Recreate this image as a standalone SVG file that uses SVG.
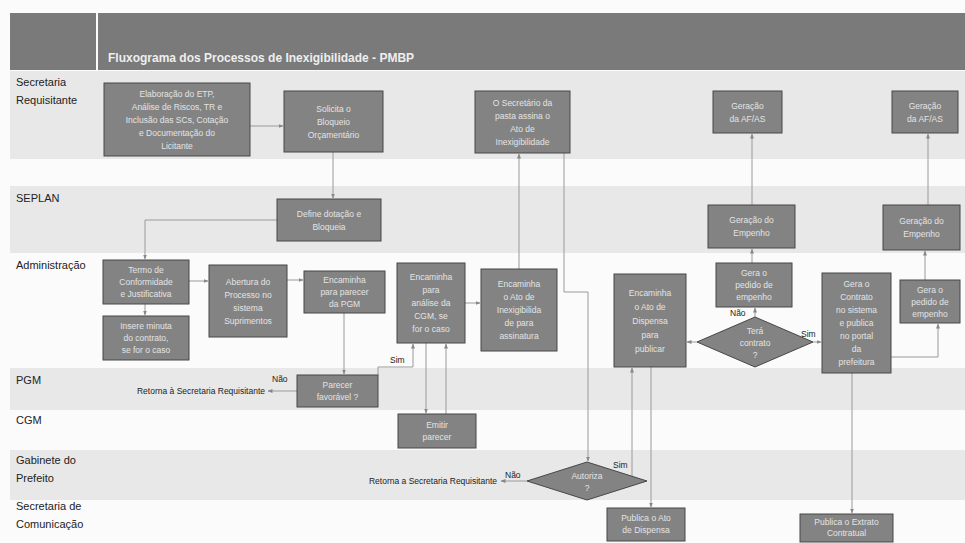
<svg xmlns="http://www.w3.org/2000/svg" width="965" height="543" viewBox="0 0 965 543">
<style>
.lane{fill:#e8e8e8}
.hdr{fill:#7a7a7a}
.lbl{font-family:"Liberation Sans",Arial,sans-serif;font-size:11px;fill:#222}
.box{fill:#838383;stroke:#474747;stroke-width:1}
.bt{font-family:"Liberation Sans",Arial,sans-serif;font-size:8.5px;fill:#e4e4e4;text-anchor:middle}
.con{fill:none;stroke:#9a9a9a;stroke-width:1;marker-end:url(#ah)}
.note{font-family:"Liberation Sans",Arial,sans-serif;font-size:8.5px;fill:#222}
</style>
<defs>
<marker id="ah" viewBox="0 0 10 10" refX="9" refY="5" markerWidth="5" markerHeight="5" orient="auto-start-reverse" markerUnits="userSpaceOnUse">
<path d="M0,1 L10,5 L0,9 z" fill="#888"/>
</marker>
</defs>
<rect x="0" y="0" width="965" height="543" fill="#fbfbfb"/>
<g id="lanes">
<rect class="lane" x="10" y="71" width="955" height="88"/>
<rect class="lane" x="10" y="186" width="955" height="67"/>
<rect class="lane" x="10" y="368" width="955" height="42"/>
<rect class="lane" x="10" y="450" width="955" height="50"/>
<rect class="hdr" x="10" y="13" width="86" height="57"/>
<rect class="hdr" x="98" y="13" width="867" height="57"/>
<text x="108" y="62" font-family="Liberation Sans,Arial,sans-serif" font-size="12" font-weight="bold" fill="#eeeeee">Fluxograma dos Processos de Inexigibilidade - PMBP</text>
<text class="lbl" x="16" y="86">Secretaria</text>
<text class="lbl" x="16" y="104">Requisitante</text>
<text class="lbl" x="16" y="202">SEPLAN</text>
<text class="lbl" x="16" y="269">Administração</text>
<text class="lbl" x="16" y="384">PGM</text>
<text class="lbl" x="16" y="424">CGM</text>
<text class="lbl" x="16" y="464">Gabinete do</text>
<text class="lbl" x="16" y="482">Prefeito</text>
<text class="lbl" x="16" y="510">Secretaria de</text>
<text class="lbl" x="16" y="528">Comunicação</text>
</g>
<g id="connectors">
<path class="con" d="M250,126 H283"/>
<path class="con" d="M333,152 V198"/>
<path class="con" d="M277,220 H145 V259"/>
<path class="con" d="M145,304 V315"/>
<path class="con" d="M189,281 H208"/>
<path class="con" d="M287,280 H303"/>
<path class="con" d="M344,313 V374"/>
<path class="con" d="M297,391 H268"/>
<path class="con" d="M378,375 V367 H413 V344"/>
<path class="con" d="M426,343 V413"/>
<path class="con" d="M446,414 V344"/>
<path class="con" d="M465,303 H480"/>
<path class="con" d="M519,269 V154"/>
<path class="con" d="M564,153 V292 H588 V461"/>
<path class="con" d="M527,481 H501"/>
<path class="con" d="M632,476 V368"/>
<path class="con" d="M651,367 V507"/>
<path class="con" d="M697,342 H687"/>
<path class="con" d="M755,317 V308"/>
<path class="con" d="M752,263 V249"/>
<path class="con" d="M752,205 V134"/>
<path class="con" d="M813,342 H821"/>
<path class="con" d="M891,357 H938 V324"/>
<path class="con" d="M925,280 V251"/>
<path class="con" d="M928,205 V134"/>
<path class="con" d="M852,373 V513"/>
<text class="note" x="272" y="382" font-size="8">Não</text>
<text class="note" x="390" y="363" font-size="8">Sim</text>
<text class="note" x="730" y="316" font-size="8">Não</text>
<text class="note" x="801" y="337" font-size="8">Sim</text>
<text class="note" x="613" y="468" font-size="8">Sim</text>
<text class="note" x="505" y="478" font-size="8">Não</text>
<text class="note" x="265" y="394" text-anchor="end">Retorna à Secretaria Requisitante</text>
<text class="note" x="497" y="484" text-anchor="end">Retorna a Secretaria Requisitante</text>
</g>
<g id="n-elab"><rect class="box" x="104" y="83" width="146" height="73"/>
<text class="bt"><tspan x="177" y="97">Elaboração do ETP,</tspan><tspan x="177" y="110">Análise de Riscos, TR e</tspan><tspan x="177" y="123">Inclusão das SCs, Cotação</tspan><tspan x="177" y="136">e Documentação do</tspan><tspan x="177" y="149">Licitante</tspan></text></g>
<g id="n-solicita"><rect class="box" x="284" y="91" width="99" height="61"/>
<text class="bt"><tspan x="333.5" y="112">Solicita o</tspan><tspan x="333.5" y="125">Bloqueio</tspan><tspan x="333.5" y="138">Orçamentário</tspan></text></g>
<g id="n-secretario"><rect class="box" x="475" y="91" width="95" height="62"/>
<text class="bt"><tspan x="522.5" y="106">O Secretário da</tspan><tspan x="522.5" y="119">pasta assina o</tspan><tspan x="522.5" y="132">Ato de</tspan><tspan x="522.5" y="145">Inexigibilidade</tspan></text></g>
<g id="n-afas1"><rect class="box" x="713" y="91" width="69" height="42"/>
<text class="bt"><tspan x="747.5" y="109">Geração</tspan><tspan x="747.5" y="122">da AF/AS</tspan></text></g>
<g id="n-afas2"><rect class="box" x="892" y="91" width="66" height="42"/>
<text class="bt"><tspan x="925" y="109">Geração</tspan><tspan x="925" y="122">da AF/AS</tspan></text></g>
<g id="n-define"><rect class="box" x="277" y="199" width="104" height="42"/>
<text class="bt"><tspan x="329" y="217">Define dotação e</tspan><tspan x="329" y="230">Bloqueia</tspan></text></g>
<g id="n-termo"><rect class="box" x="103" y="260" width="86" height="44"/>
<text class="bt"><tspan x="146" y="273">Termo de</tspan><tspan x="146" y="285">Conformidade</tspan><tspan x="146" y="297">e Justificativa</tspan></text></g>
<g id="n-insere"><rect class="box" x="103" y="316" width="86" height="44"/>
<text class="bt"><tspan x="146" y="329">Insere minuta</tspan><tspan x="146" y="341">do contrato,</tspan><tspan x="146" y="353">se for o caso</tspan></text></g>
<g id="n-abertura"><rect class="box" x="209" y="265" width="78" height="72"/>
<text class="bt"><tspan x="248" y="285">Abertura do</tspan><tspan x="248" y="298">Processo no</tspan><tspan x="248" y="311">sistema</tspan><tspan x="248" y="324">Suprimentos</tspan></text></g>
<g id="n-encpgm"><rect class="box" x="304" y="271" width="81" height="42"/>
<text class="bt"><tspan x="344.5" y="283">Encaminha</tspan><tspan x="344.5" y="295">para parecer</tspan><tspan x="344.5" y="307">da PGM</tspan></text></g>
<g id="n-enccgm"><rect class="box" x="397" y="263" width="68" height="80"/>
<text class="bt"><tspan x="431" y="280">Encaminha</tspan><tspan x="431" y="293">para</tspan><tspan x="431" y="306">análise da</tspan><tspan x="431" y="319">CGM, se</tspan><tspan x="431" y="332">for o caso</tspan></text></g>
<g id="n-encinex"><rect class="box" x="481" y="269" width="76" height="82"/>
<text class="bt"><tspan x="519" y="287">Encaminha</tspan><tspan x="519" y="300">o Ato de</tspan><tspan x="519" y="313">Inexigibilida</tspan><tspan x="519" y="326">de para</tspan><tspan x="519" y="339">assinatura</tspan></text></g>
<g id="n-dispensa"><rect class="box" x="614" y="274" width="72" height="93"/>
<text class="bt"><tspan x="650" y="296">Encaminha</tspan><tspan x="650" y="310">o Ato de</tspan><tspan x="650" y="324">Dispensa</tspan><tspan x="650" y="338">para</tspan><tspan x="650" y="352">publicar</tspan></text></g>
<g id="n-pedido1"><rect class="box" x="716" y="263" width="76" height="44"/>
<text class="bt"><tspan x="754" y="276">Gera o</tspan><tspan x="754" y="288">pedido de</tspan><tspan x="754" y="300">empenho</tspan></text></g>
<g id="n-empenho1"><rect class="box" x="708" y="205" width="87" height="43"/>
<text class="bt"><tspan x="751.5" y="223">Geração do</tspan><tspan x="751.5" y="236">Empenho</tspan></text></g>
<g id="n-tera"><polygon class="box" points="697,342 755,317 813,342 755,367"/>
<text class="bt"><tspan x="755" y="334">Terá</tspan><tspan x="755" y="346">contrato</tspan><tspan x="755" y="358">?</tspan></text></g>
<g id="n-contrato"><rect class="box" x="822" y="273" width="69" height="100"/>
<text class="bt"><tspan x="856.5" y="287">Gera o</tspan><tspan x="856.5" y="300">Contrato</tspan><tspan x="856.5" y="313">no sistema</tspan><tspan x="856.5" y="326">e publica</tspan><tspan x="856.5" y="339">no portal</tspan><tspan x="856.5" y="352">da</tspan><tspan x="856.5" y="365">prefeitura</tspan></text></g>
<g id="n-pedido2"><rect class="box" x="900" y="280" width="60" height="43"/>
<text class="bt"><tspan x="930" y="293">Gera o</tspan><tspan x="930" y="305">pedido de</tspan><tspan x="930" y="317">empenho</tspan></text></g>
<g id="n-empenho2"><rect class="box" x="883" y="205" width="77" height="45"/>
<text class="bt"><tspan x="921.5" y="224">Geração do</tspan><tspan x="921.5" y="237">Empenho</tspan></text></g>
<g id="n-parecer"><rect class="box" x="297" y="375" width="81" height="32"/>
<text class="bt"><tspan x="337.5" y="388">Parecer</tspan><tspan x="337.5" y="400">favorável ?</tspan></text></g>
<g id="n-emitir"><rect class="box" x="398" y="414" width="78" height="34"/>
<text class="bt"><tspan x="437" y="428">Emitir</tspan><tspan x="437" y="440">parecer</tspan></text></g>
<g id="n-autoriza"><polygon class="box" points="527,481 587,462 647,481 587,500"/>
<text class="bt"><tspan x="587" y="479">Autoriza</tspan><tspan x="587" y="491">?</tspan></text></g>
<g id="n-pubdisp"><rect class="box" x="607" y="508" width="78" height="33"/>
<text class="bt"><tspan x="646" y="521">Publica o Ato</tspan><tspan x="646" y="533">de Dispensa</tspan></text></g>
<g id="n-pubext"><rect class="box" x="800" y="514" width="93" height="28"/>
<text class="bt"><tspan x="846.5" y="525">Publica o Extrato</tspan><tspan x="846.5" y="536">Contratual</tspan></text></g>
</svg>
